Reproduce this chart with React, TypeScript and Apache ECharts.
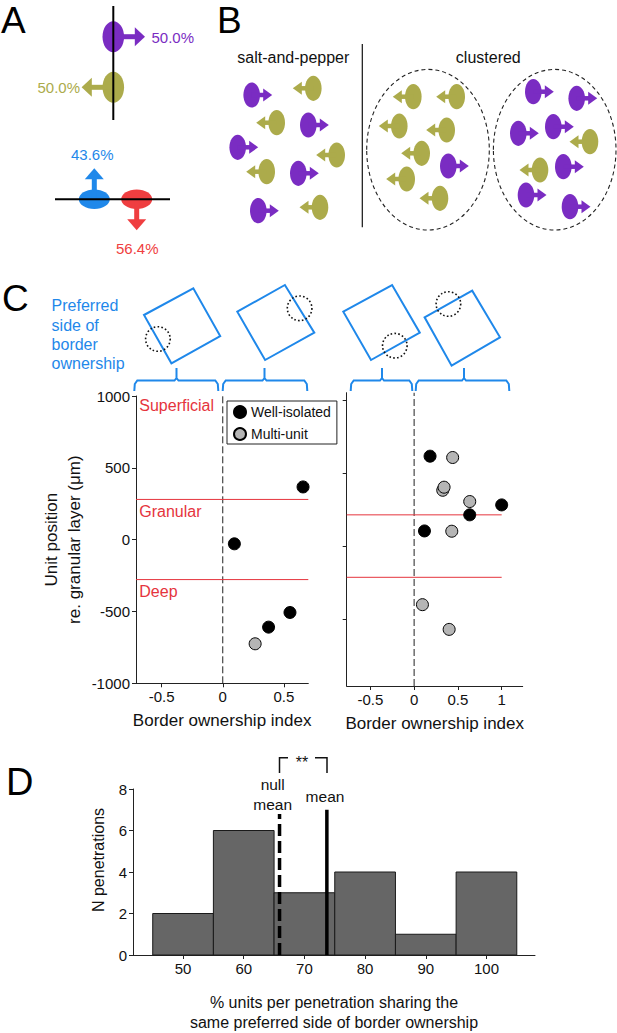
import React, { useEffect, useRef } from 'react';
import * as echarts from 'echarts';

const FONT = '"Liberation Sans", Arial, Helvetica, sans-serif';
const PURPLE = '#7A2CC2';
const OLIVE = '#ACAB4B';
const BLUE = '#1F88EA';
const RED = '#EF3E40';
const LAYER_RED = '#E5343D';

// ---------- Panel A: population percentages ----------
const horizontalShares = ['50.0%', '50.0%'];
const verticalShares = ['43.6%', '56.4%'];

// ---------- Panel B: schematic cells [x, y, preferred side: 1 = right, -1 = left] ----------
const saltPepperCells: [number, number, number][] = [
  [251.7, 95, 1], [313.3, 88.3, -1], [276.7, 122.7, -1], [308.3, 125, 1], [237.7, 147.3, 1],
  [336.7, 155, -1], [266.7, 171.7, -1], [298.3, 173.3, 1], [258.3, 210.7, 1], [320, 207.3, -1],
];
const clusterOneCells: [number, number, number][] = [
  [413.3, 96.7, -1], [456.7, 96.7, -1], [399.3, 126, -1], [446.7, 130, -1],
  [421.7, 153.3, -1], [448.3, 166, 1], [406.7, 179, -1], [440, 198.3, -1],
];
const clusterTwoCells: [number, number, number][] = [
  [533.3, 91.7, 1], [576.7, 98.3, 1], [518.3, 133.3, 1], [553.3, 126.7, 1], [590, 141.7, -1],
  [540, 170, -1], [563.3, 166.7, 1], [526, 195, 1], [570, 206.7, 1],
];

// ---------- Panel C: scatter data [border ownership index, depth (µm)] ----------
const leftWellIsolated = [[0.657, 367], [0.095, -29], [0.55, -507], [0.375, -609]];
const leftMultiUnit = [[0.265, -725]];
const rightWellIsolated = [[0.182, 616], [1.0, 283], [0.635, 215], [0.118, 105]];
const rightMultiUnit = [
  [0.44, 607], [0.327, 383], [0.342, 404], [0.635, 306], [0.43, 103], [0.095, -399], [0.40, -568],
];
const leftLayerBounds = [280, -278];
const rightLayerBounds = [215, -212];
const leftXRange = [-0.71, 0.70];
const rightXRange = [-0.77, 1.24];
const rightLayerLineEnd = 1.0;
const leftYRange = [-1000, 1000];
const rightYRange = [-955, 1050];
const leftXTicks = [-0.5, 0, 0.5];
const rightXTicks = [-0.5, 0, 0.5, 1];
const rightYTicks = [-500, 0, 500, 1000];
const layerNames = ['Superficial', 'Granular', 'Deep'];

// ---------- Panel D: histogram ----------
const binStarts = [45, 55, 65, 75, 85, 95];
const binWidth = 10;
const penetrationCounts = [2, 6, 3, 4, 1, 4];
const nullMean = 65.9;
const observedMean = 73.7;
const nullMeanTop = 6.8;
const observedMeanTop = 7.0;
const dXTicks = [50, 60, 70, 80, 90, 100];

function font(size: number) {
  return `${size}px ${FONT}`;
}

function txt(text: string, x: number, y: number, size: number, fill: string, align = 'center', vAlign = 'middle', lineHeight?: number): any {
  return {
    type: 'text',
    silent: true,
    style: {
      text, x, y, font: font(size), fill,
      textAlign: align, align, textVerticalAlign: vAlign, verticalAlign: vAlign,
      lineHeight,
    },
  };
}

type CellGeom = { rx: number; ry: number; base: number; tip: number; half: number; w: number };
const smallCell: CellGeom = { rx: 8.3, ry: 12.6, base: 11.5, tip: 20.5, half: 6.5, w: 4.5 };
const bigCellH: CellGeom = { rx: 10.8, ry: 15.5, base: 21.5, tip: 31.7, half: 9.5, w: 5 };
const bigCellV: CellGeom = { rx: 15.5, ry: 9.7, base: 20, tip: 31, half: 9.5, w: 5 };

function hCell(cx: number, cy: number, dir: number, color: string, g: CellGeom): any[] {
  return [
    { type: 'ellipse', silent: true, shape: { cx, cy, rx: g.rx, ry: g.ry }, style: { fill: color } },
    { type: 'line', silent: true, shape: { x1: cx, y1: cy, x2: cx + dir * (g.base + 1), y2: cy }, style: { stroke: color, lineWidth: g.w } },
    {
      type: 'polygon', silent: true,
      shape: { points: [[cx + dir * g.base, cy - g.half], [cx + dir * g.tip, cy], [cx + dir * g.base, cy + g.half]] },
      style: { fill: color },
    },
  ];
}

function vCell(cx: number, cy: number, dir: number, color: string, g: CellGeom): any[] {
  return [
    { type: 'ellipse', silent: true, shape: { cx, cy, rx: g.rx, ry: g.ry }, style: { fill: color } },
    { type: 'line', silent: true, shape: { x1: cx, y1: cy, x2: cx, y2: cy + dir * (g.base + 1) }, style: { stroke: color, lineWidth: g.w } },
    {
      type: 'polygon', silent: true,
      shape: { points: [[cx - g.half, cy + dir * g.base], [cx, cy + dir * g.tip], [cx + g.half, cy + dir * g.base]] },
      style: { fill: color },
    },
  ];
}

function bracket(x1: number, x2: number, mid: number): any {
  const y = 380.5;
  return {
    type: 'polyline', silent: true,
    shape: {
      points: [
        [x1, 391], [x1 + 0.5, 384], [x1 + 3, y], [mid - 2, y], [mid, y - 2.5], [mid, 368],
        [mid, y - 2.5], [mid + 2, y], [x2 - 3, y], [x2 - 0.5, 384], [x2, 391],
      ],
    },
    style: { stroke: BLUE, lineWidth: 2, fill: null },
  };
}

function square(points: number[][]): any {
  return { type: 'polygon', silent: true, shape: { points }, style: { stroke: BLUE, lineWidth: 2, fill: null } };
}

function dotted(cx: number, cy: number): any {
  return { type: 'circle', silent: true, shape: { cx, cy, r: 12.3 }, style: { stroke: '#111', lineWidth: 1.6, lineDash: [1.6, 2.2], fill: null } };
}

function buildGraphics(): any[] {
  const g: any[] = [];
  // Panel letters
  g.push(txt('A', 1, 20, 37, '#000', 'left'));
  g.push(txt('B', 217, 20, 37, '#000', 'left'));
  g.push(txt('C', 2, 298, 37, '#000', 'left'));
  g.push(txt('D', 6, 782, 38, '#000', 'left'));

  // Panel A
  g.push(...hCell(113.3, 36.7, 1, PURPLE, bigCellH));
  g.push(...hCell(113.3, 87.3, -1, OLIVE, bigCellH));
  g.push({ type: 'line', silent: true, shape: { x1: 113.3, y1: 6, x2: 113.3, y2: 120 }, style: { stroke: '#000', lineWidth: 2 } });
  g.push(txt(horizontalShares[0], 151.5, 37.5, 15, PURPLE, 'left'));
  g.push(txt(horizontalShares[1], 80, 87.5, 15, OLIVE, 'right'));
  g.push(...vCell(94.3, 199.3, -1, BLUE, bigCellV));
  g.push(...vCell(136.7, 199.3, 1, RED, bigCellV));
  g.push({ type: 'line', silent: true, shape: { x1: 55, y1: 199.3, x2: 170, y2: 199.3 }, style: { stroke: '#000', lineWidth: 2 } });
  g.push(txt(verticalShares[0], 92.3, 154.5, 15, BLUE));
  g.push(txt(verticalShares[1], 137.3, 248.5, 15, RED));

  // Panel B
  g.push(txt('salt-and-pepper', 293.3, 57.5, 16, '#111'));
  g.push(txt('clustered', 488.3, 57.5, 16, '#111'));
  g.push({ type: 'line', silent: true, shape: { x1: 362.3, y1: 44, x2: 362.3, y2: 227.3 }, style: { stroke: '#111', lineWidth: 1.2 } });
  g.push({ type: 'ellipse', silent: true, shape: { cx: 428, cy: 149.7, rx: 61.3, ry: 80.3 }, style: { stroke: '#222', lineWidth: 1.1, lineDash: [4, 3], fill: null } });
  g.push({ type: 'ellipse', silent: true, shape: { cx: 554.7, cy: 149.7, rx: 61.3, ry: 80.3 }, style: { stroke: '#222', lineWidth: 1.1, lineDash: [4, 3], fill: null } });
  [...saltPepperCells, ...clusterOneCells, ...clusterTwoCells].forEach(([x, y, d]) => {
    g.push(...hCell(x, y, d, d > 0 ? PURPLE : OLIVE, smallCell));
  });

  // Panel C diagrams
  g.push(txt('Preferred\nside of\nborder\nownership', 51.6, 296.2, 16, BLUE, 'left', 'top', 19.2));
  g.push(square([[144, 315], [193.3, 288.3], [220.2, 336], [171.4, 363.3]]));
  g.push(dotted(157.9, 339));
  g.push(square([[237.3, 311.7], [284.9, 285], [314.3, 332.7], [265.1, 360]]));
  g.push(dotted(299.6, 308.3));
  g.push(square([[343.3, 311.7], [392.1, 285], [419.8, 332.7], [371, 360]]));
  g.push(dotted(394.8, 345.7));
  g.push(square([[424.6, 317.3], [472.2, 290.7], [500, 337.3], [451.6, 365.7]]));
  g.push(dotted(448.4, 304));
  g.push(bracket(134.3, 218.3, 176.5));
  g.push(bracket(222.7, 307.3, 264.5));
  g.push(bracket(350.7, 412.3, 382));
  g.push(bracket(415.7, 509.3, 464));

  // Layer labels
  g.push(txt(layerNames[0], 139.3, 405.5, 16, LAYER_RED, 'left'));
  g.push(txt(layerNames[1], 139.3, 511, 16, LAYER_RED, 'left'));
  g.push(txt(layerNames[2], 139.3, 591, 16, LAYER_RED, 'left'));

  // Panel D annotations
  g.push(txt('null', 272.7, 784.5, 15.5, '#111'));
  g.push(txt('mean', 272.7, 804.5, 15.5, '#111'));
  g.push(txt('mean', 325, 796, 15.5, '#111'));
  g.push({ type: 'polyline', silent: true, shape: { points: [[279.5, 773], [279.5, 757.7], [288, 757.7]] }, style: { stroke: '#111', lineWidth: 1.5, fill: null } });
  g.push({ type: 'polyline', silent: true, shape: { points: [[315, 757.7], [327, 757.7], [327, 773]] }, style: { stroke: '#111', lineWidth: 1.5, fill: null } });
  g.push(txt('**', 302, 762, 16, '#111'));
  return g;
}

const axisLineStyle = { show: true, onZero: false, lineStyle: { color: '#222', width: 1 } };
const tickStyle = (values?: number[]) => ({ show: true, length: 4, inside: false, lineStyle: { color: '#222' }, ...(values ? { customValues: values } : {}) });
const labelStyle = (values?: number[], show = true) => ({
  show, fontSize: 15, color: '#111', fontFamily: FONT, margin: 6,
  formatter: (v: number) => String(v),
  ...(values ? { customValues: values } : {}),
});

function layerLine(name: string, axis: number, y: number, x0: number, x1: number): any {
  return {
    type: 'line', name, xAxisIndex: axis, yAxisIndex: axis, silent: true, showSymbol: false, symbol: 'none',
    data: [[x0, y], [x1, y]], lineStyle: { color: LAYER_RED, width: 1 }, itemStyle: { color: LAYER_RED }, z: 1,
  };
}

function zeroLine(name: string, axis: number, yr: number[]): any {
  return {
    type: 'line', name, xAxisIndex: axis, yAxisIndex: axis, silent: true, showSymbol: false, symbol: 'none',
    data: [[0, yr[0]], [0, yr[1]]], lineStyle: { color: '#222', width: 1, type: [7, 3] }, itemStyle: { color: '#222' }, z: 1,
  };
}

export default function App() {
  const ref = useRef<HTMLDivElement>(null);
  useEffect(() => {
    if (!ref.current) return;
    const chart = echarts.init(ref.current, null, { renderer: 'svg' });
    const scatterBase = { symbolSize: 12, z: 3 };
    const option: any = {
      animation: false,
      backgroundColor: '#fff',
      textStyle: { fontFamily: FONT },
      grid: [
        { left: 136, top: 396, width: 172.3, height: 287.3 },
        { left: 346.7, top: 392.7, width: 176, height: 293.3 },
        { left: 133, top: 789, width: 402, height: 170.3 },
      ],
      legend: {
        data: ['Well-isolated', 'Multi-unit'],
        orient: 'vertical',
        left: 227,
        top: 401,
        padding: [4, 6, 3, 6],
        itemGap: 8,
        itemWidth: 12,
        itemHeight: 12,
        borderColor: '#222',
        borderWidth: 1,
        selectedMode: false,
        textStyle: { fontSize: 14, color: '#111', fontFamily: FONT },
      },
      xAxis: [
        {
          type: 'value', gridIndex: 0, min: leftXRange[0], max: leftXRange[1],
          axisLine: axisLineStyle, axisTick: tickStyle(leftXTicks), axisLabel: labelStyle(leftXTicks), splitLine: { show: false },
          name: 'Border ownership index', nameLocation: 'middle', nameGap: 29,
          nameTextStyle: { fontSize: 17, color: '#111', fontFamily: FONT },
        },
        {
          type: 'value', gridIndex: 1, min: rightXRange[0], max: rightXRange[1],
          axisLine: axisLineStyle, axisTick: tickStyle(rightXTicks), axisLabel: labelStyle(rightXTicks), splitLine: { show: false },
          name: 'Border ownership index', nameLocation: 'middle', nameGap: 29,
          nameTextStyle: { fontSize: 17, color: '#111', fontFamily: FONT },
        },
        {
          type: 'value', gridIndex: 2, min: 41.75, max: 108,
          axisLine: axisLineStyle, axisTick: tickStyle(dXTicks), axisLabel: labelStyle(dXTicks), splitLine: { show: false },
          name: '% units per penetration sharing the\nsame preferred side of border ownership',
          nameLocation: 'middle', nameGap: 37,
          nameTextStyle: { fontSize: 16, color: '#111', fontFamily: FONT, lineHeight: 20 },
        },
      ],
      yAxis: [
        {
          type: 'value', gridIndex: 0, min: leftYRange[0], max: leftYRange[1], interval: 500,
          axisLine: axisLineStyle, axisTick: tickStyle(), axisLabel: labelStyle(), splitLine: { show: false },
          name: 'Unit position\nre. granular layer (\u03bcm)', nameLocation: 'middle', nameGap: 50, nameRotate: 90,
          nameTextStyle: { fontSize: 17, color: '#111', fontFamily: FONT, lineHeight: 22.7 },
        },
        {
          type: 'value', gridIndex: 1, min: rightYRange[0], max: rightYRange[1],
          axisLine: axisLineStyle, axisTick: tickStyle(rightYTicks), axisLabel: labelStyle(rightYTicks, false), splitLine: { show: false },
        },
        {
          type: 'value', gridIndex: 2, min: 0, max: 8, interval: 2,
          axisLine: axisLineStyle, axisTick: tickStyle(), axisLabel: labelStyle(), splitLine: { show: false },
          name: 'N penetrations', nameLocation: 'middle', nameGap: 27, nameRotate: 90,
          nameTextStyle: { fontSize: 16, color: '#111', fontFamily: FONT, padding: [0, 0, 0, 24] },
        },
      ],
      series: [
        zeroLine('zero-left', 0, leftYRange),
        ...leftLayerBounds.map((v, i) => layerLine('layer-left-' + i, 0, v, leftXRange[0], leftXRange[1])),
        {
          ...scatterBase, type: 'scatter', name: 'Well-isolated', xAxisIndex: 0, yAxisIndex: 0,
          data: leftWellIsolated, itemStyle: { color: '#000', borderColor: '#000', borderWidth: 1, opacity: 1 },
        },
        {
          ...scatterBase, type: 'scatter', name: 'Multi-unit', xAxisIndex: 0, yAxisIndex: 0,
          data: leftMultiUnit, itemStyle: { color: '#b5b5b5', borderColor: '#000', borderWidth: 1, opacity: 1 },
        },
        zeroLine('zero-right', 1, rightYRange),
        ...rightLayerBounds.map((v, i) => layerLine('layer-right-' + i, 1, v, rightXRange[0], rightLayerLineEnd)),
        {
          ...scatterBase, type: 'scatter', name: 'Well-isolated', xAxisIndex: 1, yAxisIndex: 1,
          data: rightWellIsolated, itemStyle: { color: '#000', borderColor: '#000', borderWidth: 1, opacity: 1 },
        },
        {
          ...scatterBase, type: 'scatter', name: 'Multi-unit', xAxisIndex: 1, yAxisIndex: 1,
          data: rightMultiUnit, itemStyle: { color: '#b5b5b5', borderColor: '#000', borderWidth: 1, opacity: 1 },
        },
        {
          type: 'custom', name: 'Penetrations', xAxisIndex: 2, yAxisIndex: 2, silent: true,
          data: binStarts.map((s, i) => [s, s + binWidth, penetrationCounts[i]]),
          encode: { x: [0, 1], y: 2 },
          renderItem: (_params: any, api: any) => {
            const p0 = api.coord([api.value(0), api.value(2)]);
            const p1 = api.coord([api.value(1), 0]);
            return {
              type: 'rect',
              shape: { x: p0[0], y: p0[1], width: p1[0] - p0[0], height: p1[1] - p0[1] },
              style: { fill: '#666666', stroke: '#1a1a1a', lineWidth: 1 },
            };
          },
        },
        {
          type: 'line', name: 'null mean', xAxisIndex: 2, yAxisIndex: 2, silent: true, showSymbol: false, symbol: 'none',
          data: [[nullMean, 0], [nullMean, nullMeanTop]], lineStyle: { color: '#000', width: 3.5, type: [12, 5] }, z: 5,
        },
        {
          type: 'line', name: 'mean', xAxisIndex: 2, yAxisIndex: 2, silent: true, showSymbol: false, symbol: 'none',
          data: [[observedMean, 0], [observedMean, observedMeanTop]], lineStyle: { color: '#000', width: 3.5 }, z: 5,
        },
      ],
      graphic: buildGraphics(),
    };
    chart.setOption(option);
    return () => chart.dispose();
  }, []);
  return <div ref={ref} style={{ position: 'absolute', left: 0, top: 0, width: 617, height: 1033, background: '#fff' }} />;
}
